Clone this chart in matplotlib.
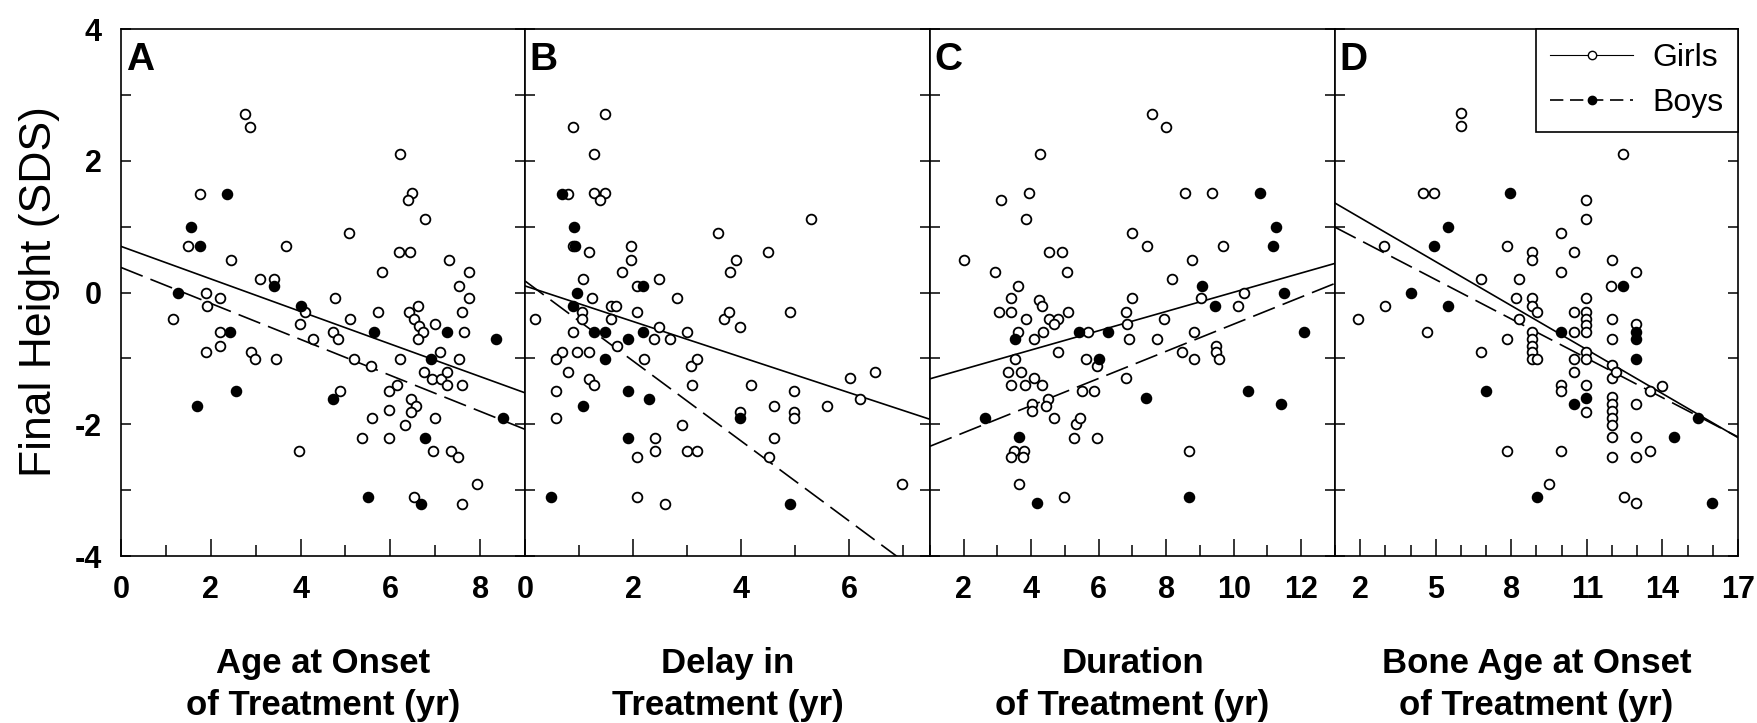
import matplotlib
matplotlib.use("Agg")
import matplotlib.pyplot as plt
import numpy as np
from matplotlib.ticker import MultipleLocator
from matplotlib.lines import Line2D

plt.rcParams["font.family"] = ["Liberation Sans", "DejaVu Sans"]

# ---- data -----------------------------------------------------------------
# Panel A: age at onset of treatment (yr)
a_girls_x = [2.76, 2.87, 6.22, 1.76, 6.48, 6.39, 6.78, 5.09, 1.50, 3.68, 6.19, 6.44,
             2.44, 7.31, 3.09, 3.41, 5.81, 7.76, 7.53, 1.89, 2.20, 4.76, 7.76,
             1.92, 1.15, 4.09, 5.72, 6.42, 6.62, 6.53, 5.11, 7.59, 2.20, 2.20, 1.89,
             2.90, 2.98, 3.46, 3.98, 4.27, 4.72, 4.84, 5.20, 5.57, 6.64, 6.72, 6.62,
             7.00, 7.10, 7.64, 7.53, 6.22, 6.76, 6.92, 7.12, 7.27, 7.27, 7.59, 5.98,
             6.14, 4.87, 6.46, 6.57, 6.46, 5.96, 5.59, 7.00, 6.33, 5.37, 5.96, 6.94,
             7.35, 7.50, 3.96, 7.94, 6.53, 7.59]
a_girls_y = [2.71, 2.51, 2.11, 1.50, 1.51, 1.41, 1.11, 0.91, 0.70, 0.70, 0.61, 0.61,
             0.50, 0.50, 0.20, 0.20, 0.31, 0.31, 0.10, 0.00, -0.08, -0.08, -0.08,
             -0.20, -0.40, -0.30, -0.30, -0.30, -0.20, -0.40, -0.40, -0.30, -0.60, -0.81, -0.91,
             -0.91, -1.01, -1.01, -0.48, -0.70, -0.60, -0.70, -1.01, -1.11, -0.51, -0.60, -0.70,
             -0.48, -0.91, -0.60, -1.01, -1.01, -1.21, -1.31, -1.31, -1.21, -1.41, -1.41, -1.49,
             -1.41, -1.49, -1.62, -1.72, -1.82, -1.79, -1.90, -1.90, -2.01, -2.21, -2.21, -2.41,
             -2.41, -2.50, -2.41, -2.90, -3.10, -3.21]
a_boys_x = [2.36, 1.55, 1.76, 3.41, 1.27, 4.02, 2.42, 5.64, 7.27, 8.35, 6.90, 2.56,
            1.70, 4.72, 8.50, 6.78, 5.50, 6.68]
a_boys_y = [1.50, 1.00, 0.70, 0.10, 0.00, -0.20, -0.60, -0.60, -0.60, -0.70, -1.01, -1.49,
            -1.72, -1.62, -1.90, -2.21, -3.11, -3.21]

# Panel B: delay in treatment (yr)
b_girls_x = [1.48, 0.88, 1.28, 0.79, 1.28, 1.48, 1.39, 5.30, 3.58, 0.88, 1.19, 1.97,
             1.97, 3.91, 3.80, 4.50, 1.79, 1.08, 2.49, 2.08, 1.25, 2.81,
             0.18, 1.59, 1.68, 1.06, 1.06, 1.59, 2.08, 2.49, 2.39, 2.69, 3.00, 3.69,
             3.78, 3.99, 4.90, 0.88, 0.68, 0.57, 0.97, 1.18, 1.70, 2.21, 3.07, 3.18,
             0.79, 1.18, 1.28, 0.57, 3.09, 4.19, 4.99, 6.01, 6.49, 6.20, 5.60, 4.61,
             4.99, 4.99, 3.99, 0.57, 2.90, 2.40, 4.61, 2.40, 2.08, 3.00, 3.18, 4.51,
             6.98, 2.08, 2.60]
b_girls_y = [2.71, 2.51, 2.11, 1.50, 1.51, 1.51, 1.41, 1.11, 0.91, 0.70, 0.61, 0.70,
             0.50, 0.50, 0.31, 0.61, 0.31, 0.20, 0.20, 0.10, -0.08, -0.08,
             -0.40, -0.20, -0.20, -0.30, -0.40, -0.40, -0.30, -0.52, -0.70, -0.70, -0.60, -0.40,
             -0.30, -0.52, -0.30, -0.60, -0.91, -1.01, -0.91, -0.91, -0.81, -1.01, -1.11, -1.01,
             -1.21, -1.31, -1.41, -1.49, -1.41, -1.41, -1.49, -1.30, -1.21, -1.62, -1.72, -1.72,
             -1.82, -1.90, -1.82, -1.90, -2.01, -2.21, -2.21, -2.41, -2.50, -2.41, -2.41, -2.50,
             -2.90, -3.11, -3.21]
b_boys_x = [0.69, 0.91, 0.92, 2.19, 0.97, 0.88, 1.28, 1.48, 1.90, 2.19, 1.48, 1.90,
            2.30, 1.08, 3.99, 1.90, 0.48, 4.90]
b_boys_y = [1.50, 1.00, 0.70, 0.10, 0.00, -0.20, -0.60, -0.60, -0.70, -0.60, -1.01, -1.50,
            -1.62, -1.72, -1.90, -2.21, -3.11, -3.21]

# Panel C: duration of treatment (yr)
c_girls_x = [7.59, 7.99, 4.27, 3.09, 3.94, 8.56, 9.37, 3.83, 7.00, 7.44, 9.69, 2.00,
             4.54, 4.91, 8.75, 2.94, 5.06, 8.18, 3.62, 3.40, 4.24, 7.00, 9.02, 10.30,
             10.13, 3.03, 3.40, 4.31, 3.83, 4.54, 4.78, 4.66, 5.10, 6.80, 6.83, 7.92,
             3.60, 4.34, 4.07, 5.67, 6.90, 7.74, 8.83, 3.52, 4.78, 5.63, 5.96, 8.48,
             8.83, 9.46, 9.46, 9.56, 3.30, 3.70, 4.07, 3.40, 3.82, 4.31, 6.80, 5.49,
             5.87, 4.03, 4.50, 4.45, 4.67, 4.01, 5.32, 5.45, 5.28, 5.96, 3.49, 3.80,
             3.40, 3.76, 3.65, 4.98, 8.68]
c_girls_y = [2.71, 2.51, 2.11, 1.41, 1.51, 1.51, 1.51, 1.11, 0.91, 0.70, 0.70, 0.50,
             0.61, 0.61, 0.50, 0.31, 0.31, 0.20, 0.10, -0.08, -0.12, -0.08, -0.08, 0.00,
             -0.20, -0.30, -0.30, -0.20, -0.40, -0.40, -0.40, -0.48, -0.30, -0.30, -0.48, -0.40,
             -0.60, -0.60, -0.70, -0.60, -0.70, -0.70, -0.60, -1.01, -0.91, -1.01, -1.11, -0.91,
             -1.01, -0.81, -0.91, -1.01, -1.21, -1.21, -1.30, -1.41, -1.41, -1.41, -1.30, -1.49,
             -1.49, -1.69, -1.62, -1.72, -1.90, -1.80, -2.00, -1.90, -2.21, -2.21, -2.41, -2.41,
             -2.50, -2.50, -2.90, -3.11, -2.40]
c_boys_x = [10.78, 11.24, 11.15, 9.07, 11.49, 9.43, 12.08, 3.52, 5.42, 6.26, 6.01, 7.39,
            10.42, 11.41, 2.63, 3.65, 4.17, 8.68]
c_boys_y = [1.51, 1.00, 0.70, 0.10, 0.00, -0.20, -0.60, -0.70, -0.60, -0.60, -1.01, -1.60,
            -1.49, -1.70, -1.90, -2.20, -3.20, -3.10]

# Panel D: bone age at onset of treatment (yr)
d_girls_x = [6.02, 6.02, 12.43, 4.48, 4.95, 10.95, 10.95, 9.98, 7.83, 8.82, 8.82, 10.48,
             11.98, 2.93, 9.98, 12.97, 6.81, 8.32, 11.96, 8.20, 8.82, 10.95,
             1.93, 2.97, 4.65, 6.81, 7.83, 8.82, 9.02, 8.32, 8.82, 8.82, 8.82, 8.82,
             8.82, 9.02, 10.48, 10.48, 10.48, 10.48, 10.95, 10.95, 10.95, 10.95, 10.95, 10.95,
             9.98, 9.98, 10.95, 10.95, 11.98, 11.98, 11.98, 11.98, 12.14, 11.98, 11.98, 11.98,
             11.98, 11.98, 11.98, 11.98, 12.96, 12.96, 12.96, 12.96, 13.49, 13.49, 13.97, 7.83,
             9.98, 9.49, 12.47, 12.96]
d_girls_y = [2.72, 2.52, 2.11, 1.51, 1.51, 1.41, 1.11, 0.91, 0.70, 0.61, 0.50, 0.61,
             0.50, 0.70, 0.31, 0.31, 0.20, 0.20, 0.10, -0.08, -0.08, -0.08,
             -0.40, -0.20, -0.60, -0.91, -0.70, -0.20, -0.30, -0.40, -0.60, -0.70, -0.81, -0.91,
             -1.01, -1.01, -0.30, -0.60, -1.01, -1.21, -0.30, -0.40, -0.50, -0.60, -0.91, -1.01,
             -1.41, -1.49, -1.41, -1.82, -0.40, -0.70, -1.10, -1.30, -1.21, -1.59, -1.69, -1.80,
             -1.90, -2.01, -2.20, -2.49, -0.48, -1.69, -2.20, -2.49, -2.40, -1.49, -1.42, -2.40,
             -2.40, -2.90, -3.10, -3.20]
d_boys_x = [7.96, 5.47, 4.95, 4.03, 12.43, 5.47, 9.98, 12.96, 12.96, 12.96, 6.99, 10.48,
            10.95, 15.42, 14.46, 9.02, 15.96]
d_boys_y = [1.51, 1.00, 0.70, 0.00, 0.10, -0.20, -0.60, -0.60, -0.70, -1.01, -1.49, -1.69,
            -1.60, -1.90, -2.20, -3.10, -3.20]

# regression lines: (intercept, slope)
girls_fit = [(0.70, -0.247), (0.10, -0.27), (-1.456, 0.146), (1.58, -0.2225)]
boys_fit = [(0.38, -0.273), (0.175, -0.607), (-2.54, 0.206), (1.19, -0.199)]

panel_letters = ["A", "B", "C", "D"]
x_limits = [(0, 9), (0, 7.5), (1, 13), (1, 17)]
x_major = [2, 2, 2, 3]
x_major_start = [0, 0, 2, 2]
x_labels = ["Age at Onset\nof Treatment (yr)", "Delay in\nTreatment (yr)",
            "Duration\nof Treatment (yr)", "Bone Age at Onset\nof Treatment (yr)"]

girls_x = [a_girls_x, b_girls_x, c_girls_x, d_girls_x]
girls_y = [a_girls_y, b_girls_y, c_girls_y, d_girls_y]
boys_x = [a_boys_x, b_boys_x, c_boys_x, d_boys_x]
boys_y = [a_boys_y, b_boys_y, c_boys_y, d_boys_y]

# ---- figure ---------------------------------------------------------------
W, H = 1758, 723
fig = plt.figure(figsize=(W / 100, H / 100), dpi=100)
edges = [121, 525, 930, 1335, 1738]
top_px, bot_px = 29, 556

dash = (0, (14, 5))
axes = []
for i in range(4):
    ax = fig.add_axes([edges[i] / W, 1 - bot_px / H,
                       (edges[i + 1] - edges[i]) / W, (bot_px - top_px) / H])
    axes.append(ax)
    x0, x1 = x_limits[i]
    ax.set_xlim(x0, x1)
    ax.set_ylim(-4, 4)

    xs = np.array([x0, x1])
    b0, b1 = girls_fit[i]
    ax.plot(xs, b0 + b1 * xs, color="black", lw=1.2, zorder=2)
    b0, b1 = boys_fit[i]
    ax.plot(xs, b0 + b1 * xs, color="black", lw=1.2, ls=dash, zorder=2)

    ax.plot(girls_x[i], girls_y[i], ls="none", marker="o", ms=7, mfc="white",
            mec="black", mew=1.3, zorder=3)
    ax.plot(boys_x[i], boys_y[i], ls="none", marker="o", ms=7, mfc="black",
            mec="black", mew=1.3, zorder=4)

    ax.text(0.012, 0.975, panel_letters[i], transform=ax.transAxes, ha="left",
            va="top", fontsize=28, fontweight="bold")

    ticks = np.arange(x_major_start[i], x1 + 0.01, x_major[i])
    ax.set_xticks(ticks)
    ax.set_xticklabels([f"{t:g}" for t in ticks], fontsize=22, fontweight="bold")
    ax.xaxis.set_minor_locator(MultipleLocator(1))
    ax.yaxis.set_major_locator(MultipleLocator(2))
    ax.yaxis.set_minor_locator(MultipleLocator(1))
    ax.tick_params(axis="x", which="major", direction="in", length=12, width=1.1, pad=14)
    ax.tick_params(axis="x", which="minor", direction="in", length=8, width=1.1)
    ax.tick_params(axis="y", which="both", direction="in", length=7, width=1.1,
                   left=True, right=True)
    if i == 0:
        ax.set_yticks([-4, -2, 0, 2, 4])
        ax.set_yticklabels(["-4", "-2", "0", "2", "4"], fontsize=22, fontweight="bold")
        ax.tick_params(axis="y", which="major", pad=14)
    else:
        ax.tick_params(axis="y", which="both", labelleft=False)
    for s in ax.spines.values():
        s.set_linewidth(1.2)

    ax.set_xlabel(x_labels[i], fontsize=25, fontweight="bold", labelpad=30,
                  linespacing=1.35)

fig.text(40 / W, 1 - 292 / H, "Final Height (SDS)", rotation=90, ha="center",
         va="center", fontsize=32)

handles = [
    Line2D([], [], color="black", lw=0.8, marker="o", ms=6, mfc="white", mec="black"),
    Line2D([], [], color="black", lw=1.2, ls=(0, (8, 4)), marker="o", ms=6,
           mfc="black", mec="black"),
]
leg = axes[3].legend(handles, ["Girls", "Boys"], loc="upper right",
                     bbox_to_anchor=(1, 1), borderaxespad=0, fancybox=False,
                     edgecolor="black", fontsize=23, handlelength=2.6,
                     framealpha=1, borderpad=0.45, labelspacing=0.45,
                     handletextpad=0.6)
leg.get_frame().set_linewidth(1.2)

fig.savefig("out.png", dpi=100)
